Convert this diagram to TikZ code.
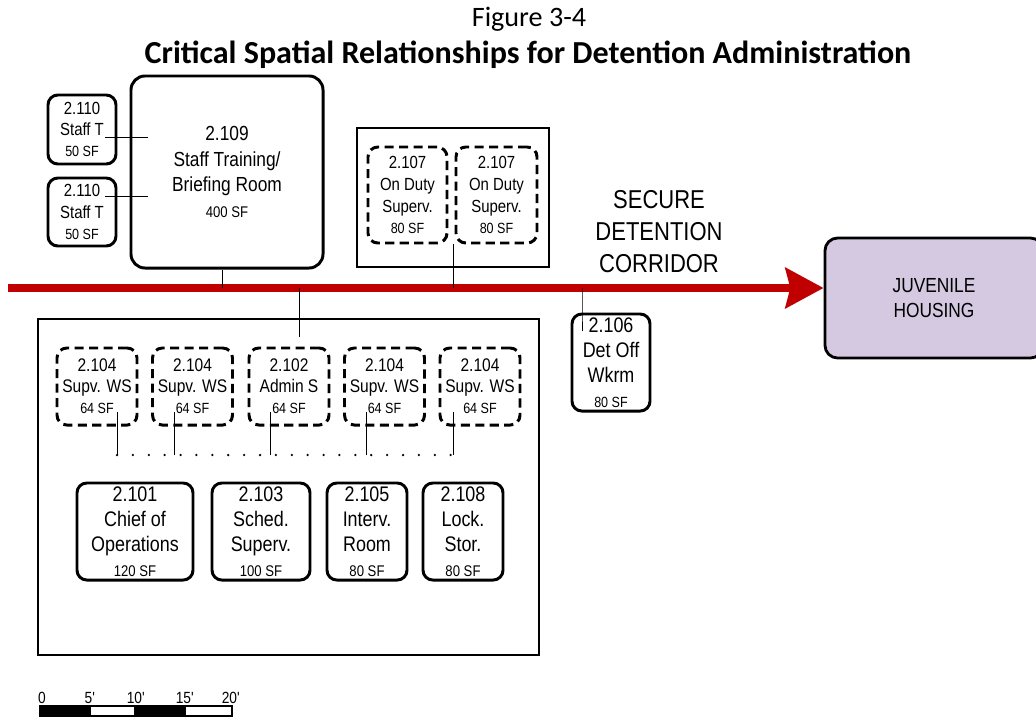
\documentclass[tikz,border=0pt]{standalone}
\usepackage{fontspec}
\setmainfont{Liberation Sans}[FakeStretch=0.85]
\newfontfamily\titlefont{Carlito}
\usepackage{xcolor}
\usetikzlibrary{arrows.meta}

\definecolor{corrred}{RGB}{192,0,0}
\definecolor{housing}{RGB}{212,201,224}
\newcommand{\sqft}[2][10.5]{{\fontsize{#1}{12}\selectfont #2 SF}}

\begin{document}
\begin{tikzpicture}[
    x=0.025cm, y=-0.025cm,
    font=\fontsize{12.5}{15}\selectfont,
    room/.style={draw, line width=2.1pt, rounded corners=7pt, align=center, inner sep=0pt},
    ws/.style={room, dash pattern=on 6.5pt off 3.8pt, font=\fontsize{13}{15}\selectfont},
    zone/.style={draw, line width=0.9pt, inner sep=0pt},
    wire/.style={line width=0.7pt},
    dotrow/.style={line width=1.8pt, line cap=round, dash pattern=on 0pt off 11.3pt},
    corridor/.style={draw=corrred, line width=5.7pt, -{Stealth[length=0.95cm, width=1cm, inset=0.12cm]}}
]
\useasboundingbox (0,0) rectangle (1036,719);

% title
\node[font=\titlefont\fontsize{20}{24}\selectfont] (fig) at (529,19) {Figure 3-4};
\node[font=\titlefont\bfseries\fontsize{22.8}{26}\selectfont] (ttl) at (528,55) {Critical Spatial Relationships for Detention Administration};

% staff training
\node[room, minimum width=1.7cm, minimum height=1.725cm] (st1) at (82,129.5) {2.110\\Staff T\\\sqft{50}};
\node[room, minimum width=1.7cm, minimum height=1.7cm] (st2) at (82,212) {2.110\\Staff T\\\sqft{50}};
\node[room, rounded corners=10pt, minimum width=4.8cm, minimum height=4.8cm,
      font=\fontsize{14.5}{18.4}\selectfont] (tr) at (227,172) {2.109\\Staff Training/\\Briefing Room\\\sqft[11]{400}};

% on duty supervisors
\node[zone, minimum width=4.8cm, minimum height=3.475cm] (dz) at (453,197.5) {};
\node[ws, minimum width=1.975cm, minimum height=2.4cm, font=\fontsize{12.5}{15.6}\selectfont] (od1) at (407.5,195) {2.107\\On Duty\\Superv.\\\sqft{80}};
\node[ws, minimum width=2.025cm, minimum height=2.4cm, font=\fontsize{12.5}{15.6}\selectfont] (od2) at (496.5,195) {2.107\\On Duty\\Superv.\\\sqft{80}};

% corridor
\node[draw, line width=2pt, rounded corners=9pt, fill=housing, minimum width=5.45cm, minimum height=3cm,
      font=\fontsize{14.5}{17.7}\selectfont, align=center] (jh) at (934,298) {JUVENILE\\HOUSING};
\coordinate (cstart) at (8,288);
\draw[corridor] (cstart) -- (cstart -| jh.west);
\node[align=center, font=\fontsize{18.4}{22.7}\selectfont] (corlbl) at (659,232) {SECURE\\DETENTION\\CORRIDOR};

\node[room, minimum width=1.95cm, minimum height=2.425cm, font=\fontsize{15}{17.7}\selectfont] (det) at (611,362.5) {2.106\\Det Off\\Wkrm\\\sqft{80}};

% administration
\node[zone, minimum width=12.525cm, minimum height=8.4cm] (adm) at (288.5,487) {};
\node[ws, minimum width=2cm, minimum height=1.925cm] (ws1) at (97,386.5) {2.104\\Supv. WS\\\sqft{64}};
\node[ws, minimum width=2cm, minimum height=1.925cm] (ws2) at (192.5,386.5) {2.104\\Supv. WS\\\sqft{64}};
\node[ws, minimum width=2cm, minimum height=1.925cm] (ws3) at (289,386.5) {2.102\\Admin S\\\sqft{64}};
\node[ws, minimum width=2cm, minimum height=1.925cm] (ws4) at (384.5,386.5) {2.104\\Supv. WS\\\sqft{64}};
\node[ws, minimum width=2cm, minimum height=1.925cm] (ws5) at (480,386.5) {2.104\\Supv. WS\\\sqft{64}};

\node[room, minimum width=2.9cm, minimum height=2.425cm, font=\fontsize{15}{17.7}\selectfont] (cop) at (135,531.5) {2.101\\Chief of\\Operations\\\sqft[11]{120}};
\node[room, minimum width=2.45cm, minimum height=2.425cm, font=\fontsize{15}{17.7}\selectfont] (sch) at (261,531.5) {2.103\\Sched.\\Superv.\\\sqft[11]{100}};
\node[room, minimum width=2cm, minimum height=2.425cm, font=\fontsize{15}{17.7}\selectfont] (int) at (367,531.5) {2.105\\Interv.\\Room\\\sqft[11]{80}};
\node[room, minimum width=2cm, minimum height=2.425cm, font=\fontsize{15}{17.7}\selectfont] (lck) at (463,531.5) {2.108\\Lock.\\Stor.\\\sqft[11]{80}};

% connectors
\draw[wire] ([shift={(23,7.5)}]st1.center) -- ++(43,0);
\draw[wire] ([shift={(23,-16)}]st2.center) -- ++(43,0);
\draw[wire] ([xshift=-0.125cm]tr.south) -- ([xshift=-0.125cm]tr.south |- cstart);
\draw[wire] (dz.center |- od1.south) -- (dz.center |- cstart);
\draw[wire] ([xshift=0.275cm]adm.north |- cstart) -- ([xshift=0.275cm]adm.north) -- ++(0,19);
\draw[wire] ([xshift=-0.725cm]det.north |- cstart) -- ([xshift=-0.725cm]det.north) -- ++(0,18);
\coordinate (dotl) at (0,455);
\foreach \n/\dx in {1/20,2/-18.5,3/-19,4/-18.5,5/-27}
  \draw[wire] ([shift={(\dx,25.5)}]ws\n.center) coordinate (tap\n) -- (tap\n |- dotl);
\draw[dotrow] (tap1 |- dotl) -- (tap5 |- dotl);

% scale bar
\foreach \a/\b/\c in {40/90/black,90/135/white,135/185/black,185/232/white}
  \filldraw[fill=\c, draw=black, line width=0.8pt] (\a,706) rectangle (\b,716);
\foreach \x/\t in {42/0,90/5\textquotesingle,136/10\textquotesingle,185/15\textquotesingle,231/20\textquotesingle}
  \node[font=\fontsize{11.5}{13}\selectfont, anchor=base] at (\x,703) {\t};
\end{tikzpicture}
\end{document}
